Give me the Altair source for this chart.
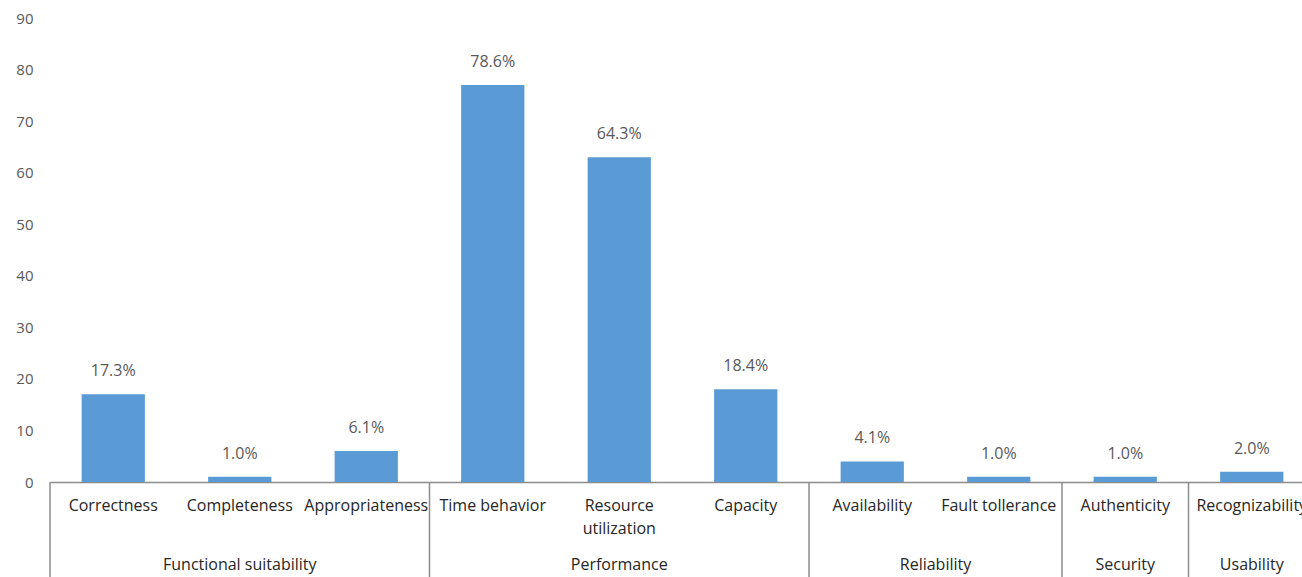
import altair as alt
import pandas as pd

cats = ["Correctness", "Completeness", "Appropriateness", "Time behavior",
        "Resource utilization", "Capacity", "Availability", "Fault tollerance",
        "Authenticity", "Recognizability"]
labels = ["Correctness", "Completeness", "Appropriateness", "Time behavior",
          "Resource\nutilization", "Capacity", "Availability", "Fault tollerance",
          "Authenticity", "Recognizability"]
counts = [17, 1, 6, 77, 63, 18, 4, 1, 1, 2]
pcts = ["17.3%", "1.0%", "6.1%", "78.6%", "64.3%", "18.4%", "4.1%", "1.0%", "1.0%", "2.0%"]
groups = ["Functional suitability"] * 3 + ["Performance"] * 3 + ["Reliability"] * 2 + ["Security", "Usability"]

df = pd.DataFrame({"cat": cats, "label": labels, "count": counts, "pct": pcts, "group": groups})
df["idx"] = range(len(df))

g = df.groupby("group", sort=False)["idx"].agg(["min", "max"]).reset_index()
g["start"] = g["min"]
g["center"] = (g["min"] + g["max"] + 1) / 2

W = 1252
H = 464
RANGE = [0, 1265]
FONT = "Open Sans"

xband = alt.X("cat:N", sort=cats,
              scale=alt.Scale(domain=cats, range=RANGE, paddingInner=0, paddingOuter=0),
              axis=alt.Axis(title=None, labels=False, ticks=False, domain=True,
                            domainColor="#8c8c8c", domainWidth=1.5, grid=False))

yaxis = alt.Axis(title=None, values=list(range(0, 91, 10)), grid=False,
                 ticks=False, domain=False, labelPadding=17,
                 labelFont=FONT, labelFontSize=15, labelColor="#595959")
yenc = alt.Y("count:Q", scale=alt.Scale(domain=[0, 90], nice=False), axis=yaxis)

base = alt.Chart(df)

bars = base.mark_bar(color="#5B9BD5", width={"band": 0.5}).encode(x=xband, y=yenc)

vals = base.mark_text(font=FONT, fontSize=16, color="#595959", baseline="middle", dy=-23).encode(
    x=alt.X("cat:N", sort=cats), y=yenc, text="pct:N")

catlab = base.mark_text(font=FONT, fontSize=16, color="#262626", baseline="middle",
                        lineBreak="\n", lineHeight=23).encode(
    x=alt.X("cat:N", sort=cats), y=alt.value(H + 24), text="label:N")

xq_sep = alt.X("start:Q", scale=alt.Scale(domain=[0, 10], range=RANGE, nice=False, zero=False), axis=None)
seps = alt.Chart(g).mark_rule(color="#8c8c8c", strokeWidth=1.5).encode(
    x=xq_sep, y=alt.value(H), y2=alt.value(H + 100))

xq_c = alt.X("center:Q", scale=alt.Scale(domain=[0, 10], range=RANGE, nice=False, zero=False), axis=None)
glab = alt.Chart(g).mark_text(font=FONT, fontSize=16, color="#262626", baseline="middle").encode(
    x=xq_c, y=alt.value(H + 83), text="group:N")

main = alt.layer(bars, vals, catlab)
annot = alt.layer(seps, glab)

chart = alt.layer(main, annot).resolve_scale(x="independent").properties(
    width=W, height=H,
    background="white",
    autosize=alt.AutoSizeParams(type="none"),
    padding={"left": 50, "top": 18, "right": 0, "bottom": 95},
).configure_view(stroke=None)

chart.save("out.html", embed_options={"renderer": "svg", "actions": False})
